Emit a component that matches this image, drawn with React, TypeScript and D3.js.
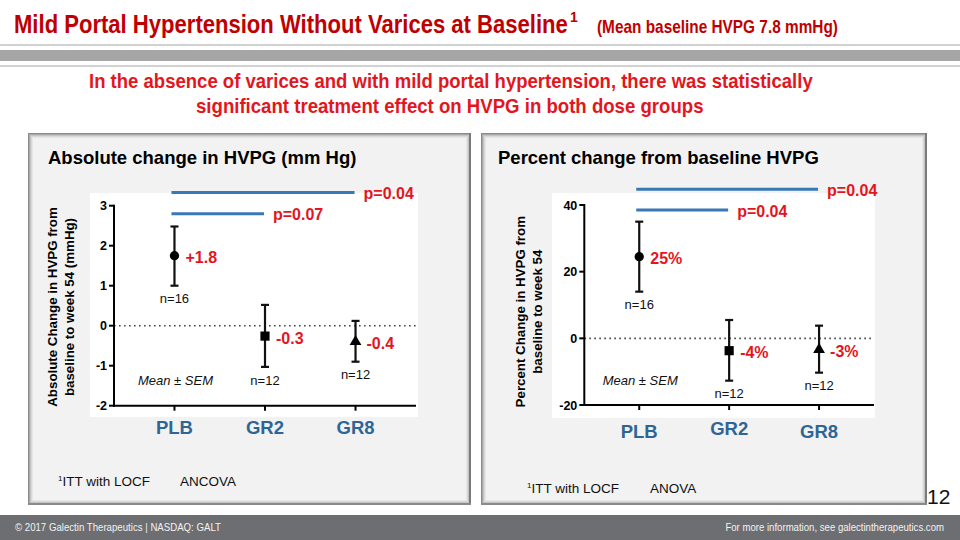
import React, { useLayoutEffect, useRef } from "react";
import * as d3 from "d3";

// ---------- data ----------
const groups = ["PLB", "GR2", "GR8"];
const markerTypes = ["circle", "square", "triangle"];
const nLabels = ["n=16", "n=12", "n=12"];

const absMean = [1.75, -0.26, -0.4];
const absUpper = [2.48, 0.52, 0.12];
const absLower = [1.0, -1.03, -0.9];
const absValueLabels = ["+1.8", "-0.3", "-0.4"];
const absTicks = [-2, -1, 0, 1, 2, 3];
const absComparisons = [
  { from: "PLB", to: "GR8", level: 3.33, label: "p=0.04" },
  { from: "PLB", to: "GR2", level: 2.8, label: "p=0.07" },
];

const pctMean = [24.5, -3.7, -3.4];
const pctUpper = [35, 5.5, 3.8];
const pctLower = [14, -12.7, -10.3];
const pctValueLabels = ["25%", "-4%", "-3%"];
const pctTicks = [-20, 0, 20, 40];
const pctComparisons = [
  { from: "PLB", to: "GR8", level: 44.7, label: "p=0.04" },
  { from: "PLB", to: "GR2", level: 38.5, label: "p=0.04" },
];

const RED = "#e3161d";
const TITLE_RED = "#c00000";
const BLUE_BAR = "#3878b4";
const CAT_BLUE = "#2f6595";
const ARIAL = "Liberation Sans, Arial, Helvetica, sans-serif";
const NARROW = "Liberation Sans Narrow, Arial Narrow, Liberation Sans, Arial, sans-serif";

// Text squeezed horizontally to a target width (measured at runtime)
function FitText(props: {
  x: number; y: number; width: number; anchor?: "start" | "end";
  fontSize: number; fill: string; bold?: boolean; family?: string; children: string;
}) {
  const ref = useRef<SVGTextElement>(null);
  useLayoutEffect(() => {
    const el = ref.current;
    if (!el) return;
    const natural = el.getComputedTextLength();
    const s = natural > 0 ? props.width / natural : 1;
    el.setAttribute("transform", `translate(${props.x},${props.y}) scale(${s},1)`);
  });
  return (
    <text ref={ref} x={0} y={0} transform={`translate(${props.x},${props.y})`}
      textAnchor={props.anchor || "start"} fontFamily={props.family || NARROW}
      fontWeight={props.bold ? "bold" : "normal"} fontSize={props.fontSize} fill={props.fill}>
      {props.children}
    </text>
  );
}

type PanelProps = {
  x0: number; x1: number; y0: number; y1: number; titleX: number;
  plotRect: [number, number, number, number];
  axisX: number; axisRight: number; yTop: number; yBottom: number;
  domain: [number, number];
  ticks: number[];
  mean: number[]; upper: number[]; lower: number[];
  valueLabels: string[];
  comparisons: { from: string; to: string; level: number; label: string }[];
  title: string;
  yLabel: [string, string];
  yLabelX: [number, number]; yLabelY: number;
  padding: number;
  footX: number; footY: number; footStat: string; footStatX: number;
  catLabelY: number[];
};

function Panel(p: PanelProps) {
  const y = d3.scaleLinear().domain(p.domain).range([p.yBottom, p.yTop]);
  const x = d3.scalePoint<string>().domain(groups).range([p.axisX, p.axisRight]).padding(p.padding);
  const w = p.x1 - p.x0, h = p.y1 - p.y0;
  const symbolMap: Record<string, d3.SymbolType> = {
    circle: d3.symbolCircle, square: d3.symbolSquare, triangle: d3.symbolTriangle,
  };
  const symbolSize: Record<string, number> = { circle: 68, square: 84, triangle: 60 };
  const shades = ["#8a8a8a", "#a8a8a8", "#c4c4c4", "#d8d8d8", "#e6e6e6"];
  return (
    <g>
      <rect x={p.x0} y={p.y0} width={w} height={h} fill="#f2f2f2" />
      {shades.map((c, i) => (
        <rect key={i} x={p.x0 + i + 0.5} y={p.y0 + i + 0.5} width={w - 2 * i - 1} height={h - 2 * i - 1}
          fill="none" stroke={c} strokeWidth={1} />
      ))}
      <line x1={p.x1 - 1} y1={p.y0} x2={p.x1 - 1} y2={p.y1} stroke="#7a7a7a" strokeWidth={2} />
      <line x1={p.x0} y1={p.y1 - 1} x2={p.x1} y2={p.y1 - 1} stroke="#8a8a8a" strokeWidth={2} />
      <text x={p.titleX} y={p.y0 + 31} fontFamily={ARIAL} fontWeight="bold" fontSize={18.5} fill="#000">{p.title}</text>
      <rect x={p.plotRect[0]} y={p.plotRect[1]} width={p.plotRect[2]} height={p.plotRect[3]} fill="#fff" />
      {/* zero line */}
      <line x1={p.axisX} x2={p.axisRight} y1={y(0)} y2={y(0)} stroke="#444" strokeWidth={1.6} strokeDasharray="1.6,3.4" />
      {/* axes */}
      <line x1={p.axisX} x2={p.axisX} y1={y(p.domain[1]) - 1} y2={p.yBottom + 1} stroke="#000" strokeWidth={2} />
      <line x1={p.axisX - 1} x2={p.axisRight} y1={p.yBottom} y2={p.yBottom} stroke="#000" strokeWidth={2} />
      {p.ticks.map((t) => (
        <g key={t}>
          <line x1={p.axisX - 5} x2={p.axisX} y1={y(t)} y2={y(t)} stroke="#000" strokeWidth={2} />
          <text x={p.axisX - 7} y={y(t)} dy="0.36em" textAnchor="end" fontFamily={ARIAL} fontWeight="bold" fontSize={12.5}>{t}</text>
        </g>
      ))}
      {groups.map((g, i) => (
        <g key={g}>
          <line x1={x(g)} x2={x(g)} y1={p.yBottom} y2={p.yBottom + 5} stroke="#000" strokeWidth={2} />
          <text x={x(g)} y={p.catLabelY[i]} textAnchor="middle" dy="0.36em" fontFamily={ARIAL} fontWeight="bold" fontSize={18.5} fill={CAT_BLUE}>{g}</text>
        </g>
      ))}
      {/* y label */}
      {p.yLabel.map((s, i) => (
        <text key={i} transform={`translate(${p.yLabelX[i]},${p.yLabelY}) rotate(-90)`} textAnchor="middle"
          fontFamily={ARIAL} fontWeight="bold" fontSize={13.3}>{s}</text>
      ))}
      {/* comparisons */}
      {p.comparisons.map((c, i) => (
        <g key={i}>
          <line x1={(x(c.from) as number) - 3} x2={(x(c.to) as number) - 1} y1={y(c.level)} y2={y(c.level)} stroke={BLUE_BAR} strokeWidth={3} />
          <text x={(x(c.to) as number) + 8} y={y(c.level) + 1} dy="0.36em" fontFamily={ARIAL} fontWeight="bold" fontSize={16} fill={RED}>{c.label}</text>
        </g>
      ))}
      {/* points and error bars */}
      {groups.map((g, i) => {
        const cx = x(g) as number;
        const sym = d3.symbol().type(symbolMap[markerTypes[i]]).size(symbolSize[markerTypes[i]])();
        return (
          <g key={g}>
            <line x1={cx} x2={cx} y1={y(p.upper[i])} y2={y(p.lower[i])} stroke="#111" strokeWidth={2.2} />
            <line x1={cx - 4} x2={cx + 4} y1={y(p.upper[i])} y2={y(p.upper[i])} stroke="#111" strokeWidth={2.2} />
            <line x1={cx - 4} x2={cx + 4} y1={y(p.lower[i])} y2={y(p.lower[i])} stroke="#111" strokeWidth={2.2} />
            <path d={sym as string} transform={`translate(${cx},${y(p.mean[i])})`} fill="#000" />
            <text x={cx + 11} y={y(p.mean[i]) + 2} dy="0.36em" fontFamily={ARIAL} fontWeight="bold" fontSize={16} fill={RED}>{p.valueLabels[i]}</text>
            <text x={cx} y={y(p.lower[i]) + 13} dy="0.36em" textAnchor="middle" fontFamily={ARIAL} fontSize={13} fill="#111">{nLabels[i]}</text>
          </g>
        );
      })}
      <text x={(x("PLB") as number) + 1} y={380} dy="0.36em" textAnchor="middle" fontFamily={ARIAL} fontStyle="italic" fontSize={13} fill="#111">Mean ± SEM</text>
      {/* footnote */}
      <text x={p.footX} y={p.footY} fontFamily={ARIAL} fontSize={13.5} fill="#111">
        <tspan fontSize={8} dy={-5}>1</tspan><tspan dy={5}>ITT with LOCF</tspan>
      </text>
      <text x={p.footStatX} y={p.footY} fontFamily={ARIAL} fontSize={13.5} fill="#111">{p.footStat}</text>
    </g>
  );
}

export default function App() {
  return (
    <svg width={960} height={540} style={{ position: "absolute", left: 0, top: 0, background: "#fff" }}>
      <rect width={960} height={540} fill="#fff" />
      {/* header */}
      <FitText x={14} y={33} width={554} fontSize={26.5} bold fill={TITLE_RED}>Mild Portal Hypertension Without Varices at Baseline</FitText>
      <text x={570} y={22} fontFamily={NARROW} fontWeight="bold" fontSize={14} fill={TITLE_RED}>1</text>
      <FitText x={597} y={33} width={241} fontSize={17.5} bold fill={TITLE_RED}>(Mean baseline HVPG 7.8 mmHg)</FitText>
      <line x1={0} x2={960} y1={45} y2={45} stroke="#a6a6a6" strokeWidth={1.2} />
      <rect x={0} y={50} width={960} height={11} fill="#a6a6a6" />
      <line x1={0} x2={960} y1={66} y2={66} stroke="#a6a6a6" strokeWidth={1.2} />
      <FitText x={89} y={88} width={724} fontSize={21} bold fill={RED}>In the absence of varices and with mild portal hypertension, there was statistically</FitText>
      <FitText x={196} y={113} width={508} fontSize={21} bold fill={RED}>significant treatment effect on HVPG in both dose groups</FitText>

      <Panel x0={28} x1={471} y0={133} y1={505} titleX={48}
        plotRect={[90, 193, 328, 224]} axisX={114} axisRight={416} yTop={205.7} yBottom={405.7}
        domain={[-2, 3]} ticks={absTicks} mean={absMean} upper={absUpper} lower={absLower}
        valueLabels={absValueLabels} comparisons={absComparisons}
        title="Absolute change in HVPG (mm Hg)"
        yLabel={["Absolute Change in HVPG from", "baseline to week 54 (mmHg)"]}
        yLabelX={[57, 74]} yLabelY={307} padding={0.668}
        footX={58} footY={486} footStat="ANCOVA" footStatX={180} catLabelY={[427, 427, 427]} />
      <Panel x0={481} x1={927} y0={133} y1={505} titleX={498}
        plotRect={[552, 193, 323, 225]} axisX={584.3} axisRight={874} yTop={205} yBottom={405}
        domain={[-20, 40]} ticks={pctTicks} mean={pctMean} upper={pctUpper} lower={pctLower}
        valueLabels={pctValueLabels} comparisons={pctComparisons}
        title="Percent change from baseline HVPG"
        yLabel={["Percent Change in HVPG from", "baseline to week 54"]}
        yLabelX={[525, 541.5]} yLabelY={311.7} padding={0.611}
        footX={527} footY={493} footStat="ANOVA" footStatX={650} catLabelY={[431, 428, 431]} />

      <text x={927} y={504} fontFamily={NARROW} fontSize={21} fill="#111">12</text>
      {/* footer */}
      <rect x={0} y={515} width={960} height={25} fill="#6d6e71" />
      <FitText x={15} y={531} width={206} fontSize={11.5} fill="#f2f2f2">©  2017 Galectin Therapeutics | NASDAQ: GALT</FitText>
      <FitText x={944} y={531} width={219} anchor="end" fontSize={11.5} fill="#f2f2f2">For more information, see galectintherapeutics.com</FitText>
    </svg>
  );
}
